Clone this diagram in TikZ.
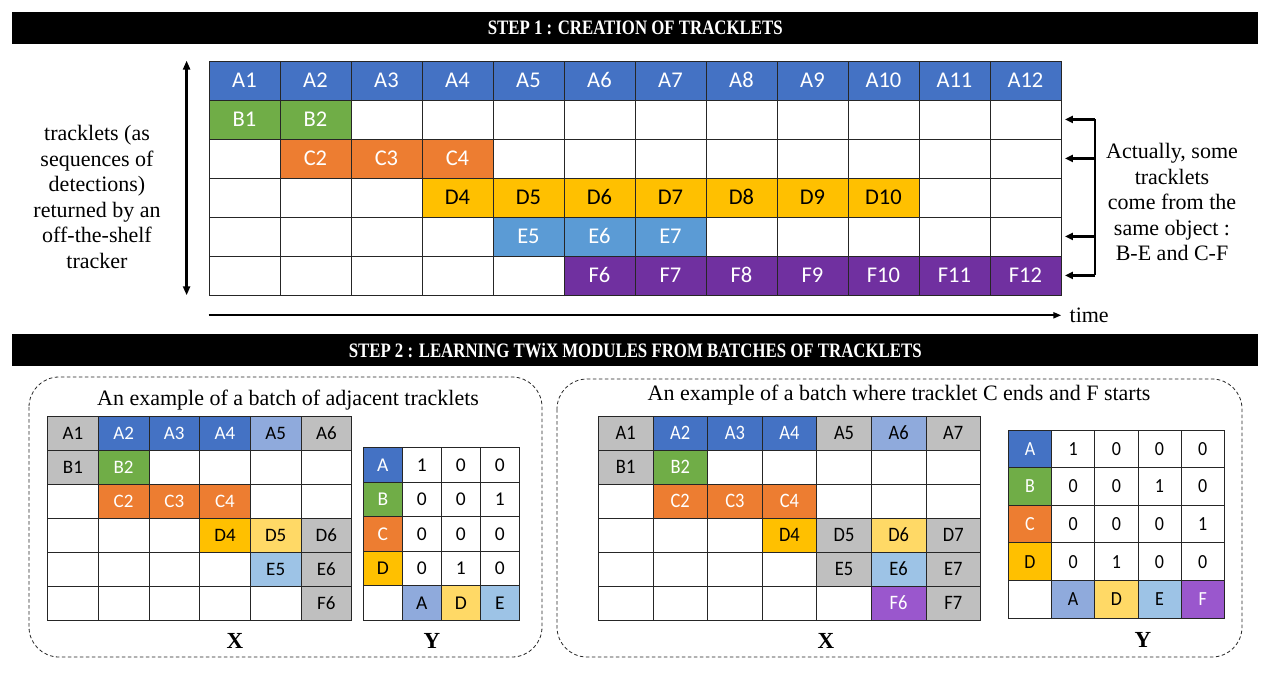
\documentclass[tikz,border=0pt]{standalone}
\usepackage{fontspec}
\setmainfont{Liberation Serif}
\newfontfamily\cellfont{Carlito}
\newfontfamily\cellnarrow[FakeStretch=0.9]{Carlito}
\newfontfamily\bannerfont[FakeStretch=0.82]{Liberation Serif}
\usetikzlibrary{matrix,arrows.meta,positioning}

\definecolor{trkA}{HTML}{4472C4}
\definecolor{trkB}{HTML}{70AD47}
\definecolor{trkC}{HTML}{ED7D31}
\definecolor{trkD}{HTML}{FFC000}
\definecolor{trkE}{HTML}{5B9BD5}
\definecolor{trkF}{HTML}{7030A0}
\definecolor{trkG}{HTML}{BFBFBF}
\definecolor{lgtA}{HTML}{8FAADC}
\definecolor{lgtD}{HTML}{FFD966}
\definecolor{lgtE}{HTML}{9DC3E6}
\definecolor{lgtF}{HTML}{9A57CD}

\tikzset{
  cell/.style 2 args={draw=black!85, line width=0.7pt, minimum width=#1, minimum height=#2, inner sep=0pt, outer sep=0pt, anchor=center, text depth=0pt},
  cellgrid/.style={matrix of nodes, nodes in empty cells, inner sep=0pt, outer sep=0pt, column sep=-0.7pt, row sep=-0.7pt, anchor=north west},
  fa/.style={fill=trkA, text=white},
  fb/.style={fill=trkB, text=white},
  fc/.style={fill=trkC, text=white},
  fd/.style={fill=trkD, text=black},
  fe/.style={fill=trkE, text=white},
  ff/.style={fill=trkF, text=white},
  fg/.style={fill=trkG, text=black},
  la/.style={fill=lgtA, text=black},
  ld/.style={fill=lgtD, text=black},
  le/.style={fill=lgtE, text=black},
  lf/.style={fill=lgtF, text=white},
  banner/.style={fill=black, text=white, minimum width=1246pt, minimum height=32pt, anchor=north west, font=\bannerfont\bfseries\fontsize{20.5}{20.5}\selectfont},
  panel/.style={draw=black!85, dash pattern=on 3.5pt off 2.5pt, rounded corners=30pt, line width=0.8pt},
  body/.style={align=center, font=\fontsize{22}{25.5}\selectfont},
  mlabel/.style={font=\bfseries\fontsize{23}{23}\selectfont},
  thick arrow/.style={line width=2.2pt, -{Triangle[length=8pt,width=7pt]}},
}

\begin{document}
\begin{tikzpicture}[x=1pt, y=-1pt]
\useasboundingbox[fill=white] (0,0) rectangle (1272,674);

% step 1
\node[banner] (step1) at (12,12) {STEP 1 : CREATION OF TRACKLETS};
\matrix (trk) [cellgrid, nodes={cell={71pt}{39pt}, text height=14.5pt, font=\cellfont\fontsize{22.5}{22.5}\selectfont}, row 1/.style={nodes=fa}] at (208.6,60.6) {
A1 & A2 & A3 & A4 & A5 & A6 & A7 & A8 & A9 & A10 & A11 & A12 \\
|[fb]| B1 & |[fb]| B2 & & & & & & & & & & \\
& |[fc]| C2 & |[fc]| C3 & |[fc]| C4 & & & & & & & & \\
& & & |[fd]| D4 & |[fd]| D5 & |[fd]| D6 & |[fd]| D7 & |[fd]| D8 & |[fd]| D9 & |[fd]| D10 & & \\
& & & & |[fe]| E5 & |[fe]| E6 & |[fe]| E7 & & & & & \\
& & & & & |[ff]| F6 & |[ff]| F7 & |[ff]| F8 & |[ff]| F9 & |[ff]| F10 & |[ff]| F11 & |[ff]| F12 \\
};
\draw[line width=2.7pt, {Triangle[length=9pt,width=7pt]}-{Triangle[length=9pt,width=7pt]}]
  ([xshift=-22pt]trk.north west) -- ([xshift=-22pt]trk.south west);
\draw[line width=2pt, -{Triangle[length=8pt,width=6pt]}]
  ([yshift=-20pt]trk.south west) -- ([yshift=-20pt]trk.south east) node[right, xshift=4pt, body] (timelab) {time};
\node[body] (trkdesc) at (97,197) {tracklets (as\\sequences of\\detections)\\returned by an\\off-the-shelf\\tracker};

% same object
\coordinate (brk) at (1095,0);
\draw[line width=2.2pt] (brk |- trk-2-12.east) -- (brk |- trk-6-12.east);
\foreach \r in {2,3,5,6}
  \draw[thick arrow] (brk |- trk-\r-12.east) -- ([xshift=4pt]trk-\r-12.east);
\node[body] (samedesc) at (1172,202) {Actually, some\\tracklets\\come from the\\same object :\\B-E and C-F};

% step 2
\node[banner] (step2) at (12,334) {STEP 2 : LEARNING TWiX MODULES FROM BATCHES OF TRACKLETS};

% adjacent tracklets
\draw[panel] (29,377) rectangle (542,657);
\node[body] (adjtitle) at (288,400) {An example of a batch of adjacent tracklets};
\matrix (adjx) [cellgrid, nodes={cell={50.7pt}{34pt}, text height=12.2pt, font=\cellfont\fontsize{19}{19}\selectfont}] at (47.2,415.6) {
|[fg]| A1 & |[fa]| A2 & |[fa]| A3 & |[fa]| A4 & |[la]| A5 & |[fg]| A6 \\
|[fg]| B1 & |[fb]| B2 & & & & \\
& |[fc]| C2 & |[fc]| C3 & |[fc]| C4 & & \\
& & & |[fd]| D4 & |[ld]| D5 & |[fg]| D6 \\
& & & & |[le]| E5 & |[fg]| E6 \\
& & & & & |[fg]| F6 \\
};
\matrix (adjy) [cellgrid, nodes={cell={39pt}{34.5pt}, text height=12.6pt, font=\cellfont\fontsize{19.5}{19.5}\selectfont}] at (363,447.2) {
|[fa]| A & 1 & 0 & 0 \\
|[fb]| B & 0 & 0 & 1 \\
|[fc]| C & 0 & 0 & 0 \\
|[fd]| D & 0 & 1 & 0 \\
& |[la]| A & |[ld]| D & |[le]| E \\
};
\node[mlabel] (adjxlab) at (235,641) {X};
\node[mlabel] (adjylab) at (432,641) {Y};

% C ends and F starts
\draw[panel] (557,379) rectangle (1242,657);
\node[body] (endtitle) at (899,395) {An example of a batch where tracklet C ends and F starts};
\matrix (endx) [cellgrid, nodes={cell={54.6pt}{34pt}, text height=13.2pt, font=\cellnarrow\fontsize{20.5}{20.5}\selectfont}] at (598,415.6) {
|[fg]| A1 & |[fa]| A2 & |[fa]| A3 & |[fa]| A4 & |[fg]| A5 & |[la]| A6 & |[fg]| A7 \\
|[fg]| B1 & |[fb]| B2 & & & & & \\
& |[fc]| C2 & |[fc]| C3 & |[fc]| C4 & & & \\
& & & |[fd]| D4 & |[fg]| D5 & |[ld]| D6 & |[fg]| D7 \\
& & & & |[fg]| E5 & |[le]| E6 & |[fg]| E7 \\
& & & & & |[lf]| F6 & |[fg]| F7 \\
};
\matrix (endy) [cellgrid, nodes={cell={43.2pt}{37.6pt}, text height=12.9pt, font=\cellnarrow\fontsize{20}{20}\selectfont}] at (1008,429.6) {
|[fa]| A & 1 & 0 & 0 & 0 \\
|[fb]| B & 0 & 0 & 1 & 0 \\
|[fc]| C & 0 & 0 & 0 & 1 \\
|[fd]| D & 0 & 1 & 0 & 0 \\
& |[la]| A & |[ld]| D & |[le]| E & |[lf]| F \\
};
\node[mlabel] (endxlab) at (826,641) {X};
\node[mlabel] (endylab) at (1143,640) {Y};
\end{tikzpicture}
\end{document}
